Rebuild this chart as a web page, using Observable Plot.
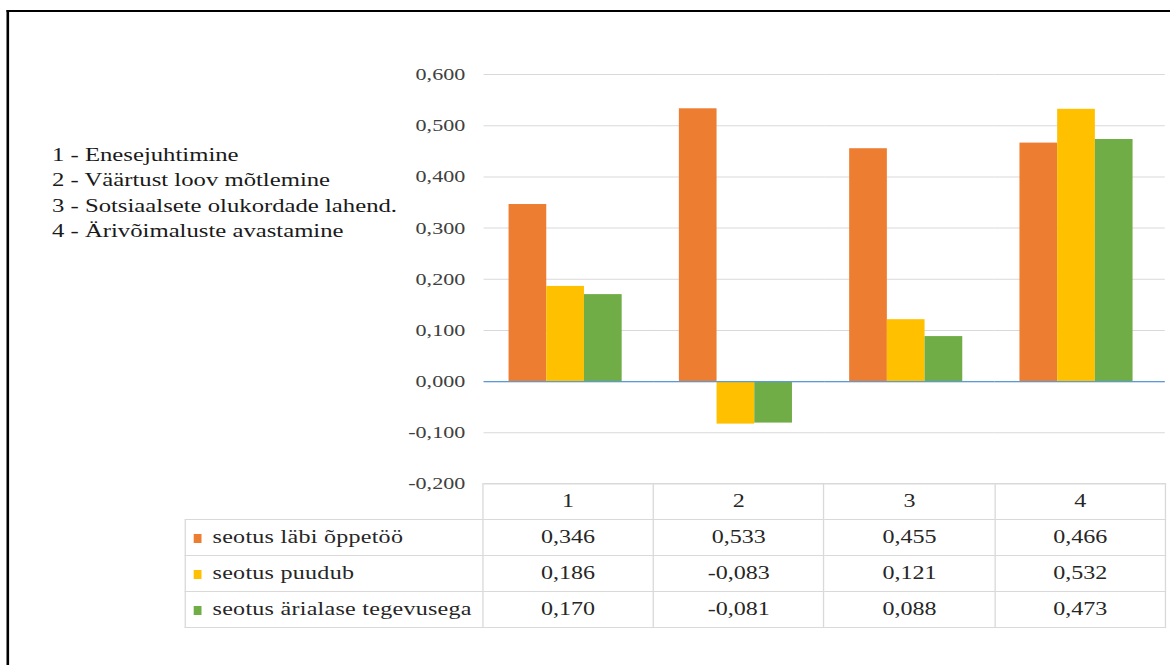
<!DOCTYPE html>
<html>
<head>
<meta charset="utf-8">
<script src="https://cdn.jsdelivr.net/npm/d3@7"></script>
<script src="https://cdn.jsdelivr.net/npm/@observablehq/plot@0.6"></script>
<style>
  html, body { margin: 0; padding: 0; background: #fff; overflow: hidden; width: 1170px; height: 665px; }
  #wrap { position: absolute; left: 0; top: 0; width: 900px; height: 665px; transform: scaleX(1.3); transform-origin: 0 0; font-family: 'Liberation Serif', 'Times New Roman', serif; }
  #frame { position: absolute; left: 5.4px; top: 10px; width: 2000px; height: 2000px; border-top: 2.5px solid #000; border-left: 2px solid #000; box-sizing: border-box; }
  #legend { position: absolute; left: 40px; top: 141.8px; font-size: 19px; line-height: 25.5px; color: #1a1a1a; white-space: nowrap; }
  #chart { position: absolute; left: 0; top: 0; }
  #table { position: absolute; left: 141.5px; top: 483px; border-collapse: collapse; table-layout: fixed; font-family: 'Liberation Serif', 'Times New Roman', serif; font-size: 18.5px; color: #262626; }
  #table td { border: 1px solid #d9d9d9; padding: 0; text-align: center; vertical-align: middle; white-space: nowrap; overflow: hidden; }
  #table td.empty { border-top: none; border-left: none; }
  #table td.lab { text-align: left; padding-left: 6px; letter-spacing: 0.2px; }
  .key { display: inline-block; width: 6px; height: 9px; margin-right: 9px; vertical-align: 0px; }
</style>
</head>
<body>
<div id="wrap">
  <div id="frame"></div>
  <div id="legend"></div>
  <div id="chart"></div>
  <table id="table"></table>
</div>
<script>
const categories = ["1", "2", "3", "4"];
const legendLines = [
  "1 - Enesejuhtimine",
  "2 - Väärtust loov mõtlemine",
  "3 - Sotsiaalsete olukordade lahend.",
  "4 - Ärivõimaluste avastamine"
];
const seriesNames = ["seotus läbi õppetöö", "seotus puudub", "seotus ärialase tegevusega"];
const seriesLabi = [0.346, 0.533, 0.455, 0.466];
const seriesPuudub = [0.186, -0.083, 0.121, 0.532];
const seriesAriala = [0.170, -0.081, 0.088, 0.473];
const seriesColors = ["#ed7d31", "#ffc000", "#70ad47"];
const yTicks = [-0.2, -0.1, 0, 0.1, 0.2, 0.3, 0.4, 0.5, 0.6];

const seriesValues = [seriesLabi, seriesPuudub, seriesAriala];
const fmt = v => v.toFixed(3).replace(".", ",");

const data = categories.flatMap((c, i) =>
  seriesNames.map((s, j) => ({cat: c, series: s, value: seriesValues[j][i]}))
);

// legend text
document.getElementById("legend").innerHTML = legendLines.map(t => `<div>${t}</div>`).join("");

const chart = Plot.plot({
  width: 900,
  height: 485,
  marginTop: 74,
  marginBottom: 1.5,
  marginLeft: 370.8,
  marginRight: 3.8,
  style: {fontFamily: "'Liberation Serif', 'Times New Roman', serif", fontSize: "17px", color: "#404040", background: "transparent", overflow: "visible"},
  fx: {domain: categories, padding: 0, axis: null, label: null},
  x: {domain: seriesNames, paddingInner: 0, paddingOuter: 0.75, align: 0.44, axis: null, label: null},
  y: {domain: [-0.2, 0.6], axis: null, label: null},
  color: {domain: seriesNames, range: seriesColors},
  marks: [
    Plot.gridY(yTicks, {stroke: "#d9d9d9", strokeOpacity: 1, strokeWidth: 1}),
    Plot.axisY(yTicks, {tickSize: 0, tickPadding: 14.6, tickFormat: fmt, fill: "#404040", label: null}),
    Plot.barY(data, {fx: "cat", x: "series", y: "value", fill: "series"}),
    Plot.ruleY([0], {stroke: "#5b9bd5", strokeWidth: 1.3})
  ]
});
document.getElementById("chart").appendChild(chart);

// data table
const colW = 131.35;
const table = document.getElementById("table");
let html = `<colgroup><col style="width:229.3px">${categories.map(() => `<col style="width:${colW}px">`).join("")}</colgroup>`;
html += `<tr style="height:36px"><td class="empty"></td>${categories.map(c => `<td>${c}</td>`).join("")}</tr>`;
seriesNames.forEach((s, j) => {
  html += `<tr style="height:${j === 2 ? 35.5 : 36}px"><td class="lab"><span class="key" style="background:${seriesColors[j]}"></span>${s}</td>${seriesValues[j].map(v => `<td>${fmt(v)}</td>`).join("")}</tr>`;
});
table.innerHTML = html;
</script>
</body>
</html>
